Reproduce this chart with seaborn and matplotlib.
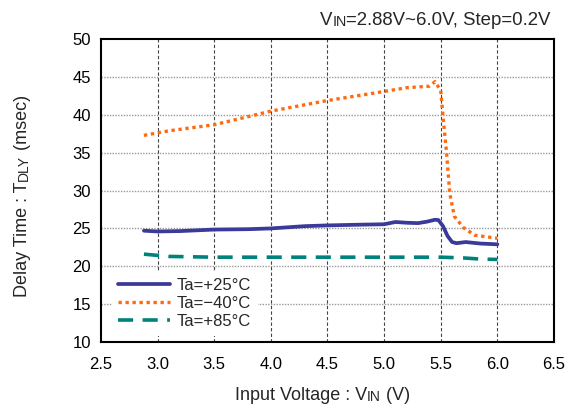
import matplotlib
matplotlib.use("Agg")
import matplotlib.pyplot as plt
import seaborn as sns
import pandas as pd

# data
v25 = [2.88, 3.0, 3.2, 3.5, 3.8, 4.0, 4.3, 4.5, 4.8, 5.0, 5.05, 5.1, 5.2, 5.3, 5.38, 5.45, 5.48,
       5.52, 5.56, 5.6, 5.64, 5.72, 5.85, 6.0]
t25 = [24.7, 24.6, 24.65, 24.85, 24.9, 25.0, 25.3, 25.4, 25.5, 25.55, 25.7, 25.85, 25.75, 25.7,
       25.9, 26.15, 26.1, 25.3, 24.0, 23.2, 23.05, 23.2, 23.0, 22.9]

vm40 = [2.88, 3.1, 3.5, 4.0, 4.5, 5.0, 5.2, 5.4, 5.45, 5.5, 5.52, 5.55, 5.58, 5.62, 5.7, 5.8, 6.0]
tm40 = [37.3, 37.9, 38.7, 40.5, 41.9, 43.1, 43.6, 43.8, 44.4, 43.2, 39.8, 35.2, 29.6, 26.6, 25.1, 24.1, 23.7]

v85 = [2.88, 3.1, 3.5, 4.0, 4.5, 5.0, 5.5, 5.7, 5.85, 6.0]
t85 = [21.6, 21.3, 21.2, 21.2, 21.2, 21.2, 21.2, 21.1, 20.95, 20.9]

labels = ["Ta=+25°C", "Ta=\u221240°C", "Ta=+85°C"]
colors = ["#3a3a9a", "#ff6a10", "#00827c"]

df = pd.concat([
    pd.DataFrame({"vin": v25, "t": t25, "ta": labels[0]}),
    pd.DataFrame({"vin": vm40, "t": tm40, "ta": labels[1]}),
    pd.DataFrame({"vin": v85, "t": t85, "ta": labels[2]}),
])

sns.set_style("white")
plt.rcParams["font.family"] = ["Liberation Sans", "DejaVu Sans"]

fig = plt.figure(figsize=(5.7, 4.09), dpi=100)
ax = fig.add_axes([0.177, 0.164, 0.795, 0.740])

styles = {labels[0]: "-", labels[1]: (0, (1, 1.1)), labels[2]: (0, (4.2, 2.6))}
widths = {labels[0]: 2.7, labels[1]: 2.4, labels[2]: 2.6}
for lab, c in zip(labels, colors):
    d = df[df["ta"] == lab]
    sns.lineplot(data=d, x="vin", y="t", ax=ax, color=c, linewidth=widths[lab],
                 linestyle=styles[lab], label=lab, estimator=None, sort=False)

ax.set_xlim(2.5, 6.5)
ax.set_ylim(10, 50)
ax.set_xticks([2.5, 3.0, 3.5, 4.0, 4.5, 5.0, 5.5, 6.0, 6.5])
ax.set_xticklabels(["2.5", "3.0", "3.5", "4.0", "4.5", "5.0", "5.5", "6.0", "6.5"])
ax.set_yticks(range(10, 51, 5))
ax.tick_params(labelsize=12, direction="in", length=3, width=0.6, colors="#555555", labelcolor="black")
ax.tick_params(axis="x", pad=11)
ax.tick_params(axis="y", pad=7)
ax.set_xlabel("")
ax.set_ylabel("")

# grid: horizontal grey dotted, vertical dark dashed
for y in range(15, 50, 5):
    ax.axhline(y, color="#9a9a9a", lw=1.0, ls=(0, (1, 1)), zorder=0)
for x in [3.0, 3.5, 4.0, 4.5, 5.0, 5.5, 6.0]:
    ax.axvline(x, color="#444444", lw=0.8, ls=(0, (3, 2)), zorder=0)

for s in ax.spines.values():
    s.set_color("black")
    s.set_linewidth(1.5)

leg = ax.legend(loc="lower left", frameon=True, fontsize=12, handlelength=3.1,
                handletextpad=0.4, labelspacing=0.18, borderaxespad=0.0,
                borderpad=0.4, fancybox=False, framealpha=1,
                bbox_to_anchor=(0.024, 0.02))
leg.get_frame().set_edgecolor("none")
leg.get_frame().set_facecolor("white")


def rich(parts, x, y, rotation=0):
    # draw text pieces one after another, big/small sizes
    prev = None
    for txt, size in parts:
        if prev is None:
            if rotation == 90:
                prev = fig.text(x, y, txt, fontsize=size, rotation=90,
                                ha="right", va="bottom")
            else:
                prev = fig.text(x, y, txt, fontsize=size, ha="left", va="bottom")
        else:
            if rotation == 90:
                prev = ax.annotate(txt, xy=(1, 1), xycoords=prev, fontsize=size,
                                   rotation=90, ha="right", va="bottom",
                                   annotation_clip=False)
            else:
                prev = ax.annotate(txt, xy=(1, 0), xycoords=prev, fontsize=size,
                                   ha="left", va="bottom", annotation_clip=False)


rich([("V", 13.4), ("IN", 10.3), ("=2.88V~6.0V, Step=0.2V", 13.4)], 0.561, 0.93)
rich([("Input Voltage : V", 13), ("IN", 10), (" (V)", 13)], 0.412, 0.012)
rich([("Delay Time : T", 13), ("DLY", 10), (" (msec)", 13)], 0.055, 0.274, rotation=90)

fig.savefig("out.png", dpi=100)
